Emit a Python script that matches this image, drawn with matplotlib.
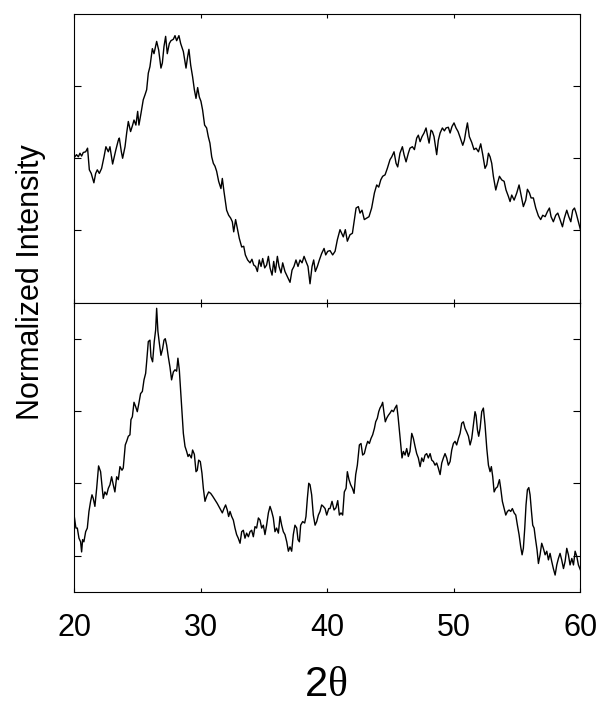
import numpy as np
from matplotlib import pyplot as plt

# top pattern: 2-theta (deg) and normalized intensity
top_theta = [
    20.00, 20.18, 20.32, 20.45, 20.58, 20.71, 20.90, 21.05, 21.19, 21.34,
    21.55, 21.69, 21.82, 21.98, 22.16, 22.35, 22.50, 22.69, 22.82, 23.03,
    23.16, 23.29, 23.48, 23.56, 23.72, 23.82, 24.01, 24.14, 24.27, 24.45,
    24.61, 24.72, 24.87, 25.01, 25.11, 25.27, 25.45, 25.59, 25.72, 25.85,
    25.98, 26.17, 26.30, 26.51, 26.67, 26.85, 26.96, 27.09, 27.22, 27.35,
    27.51, 27.64, 27.83, 27.96, 28.09, 28.27, 28.41, 28.62, 28.83, 28.96,
    29.06, 29.20, 29.35, 29.49, 29.62, 29.75, 29.88, 30.01, 30.14, 30.30,
    30.46, 30.59, 30.72, 30.86, 30.99, 31.12, 31.25, 31.41, 31.59, 31.70,
    31.83, 31.94, 32.04, 32.20, 32.36, 32.49, 32.60, 32.75, 32.91, 33.04,
    33.23, 33.39, 33.52, 33.70, 33.89, 34.04, 34.18, 34.33, 34.47, 34.62,
    34.76, 34.89, 35.05, 35.20, 35.34, 35.47, 35.63, 35.76, 35.89, 36.05,
    36.18, 36.34, 36.47, 36.65, 36.84, 37.05, 37.21, 37.36, 37.52, 37.68,
    37.84, 38.00, 38.16, 38.31, 38.47, 38.63, 38.79, 38.92, 39.05, 39.21,
    39.37, 39.55, 39.74, 39.87, 40.03, 40.21, 40.42, 40.61, 40.79, 41.00,
    41.13, 41.26, 41.42, 41.58, 41.79, 41.98, 42.11, 42.27, 42.45, 42.58,
    42.74, 42.92, 43.11, 43.29, 43.50, 43.72, 43.90, 44.06, 44.22, 44.37,
    44.56, 44.74, 44.95, 45.09, 45.27, 45.43, 45.56, 45.74, 45.93, 46.06,
    46.22, 46.40, 46.53, 46.72, 46.88, 47.06, 47.19, 47.33, 47.48, 47.64,
    47.80, 47.93, 48.04, 48.19, 48.30, 48.43, 48.64, 48.77, 48.91, 49.09,
    49.25, 49.38, 49.56, 49.70, 49.85, 50.01, 50.17, 50.33, 50.49, 50.70,
    50.83, 50.96, 51.07, 51.22, 51.41, 51.59, 51.75, 51.94, 52.12, 52.28,
    52.46, 52.60, 52.73, 52.86, 52.99, 53.12, 53.31, 53.44, 53.60, 53.78,
    53.97, 54.12, 54.31, 54.44, 54.57, 54.76, 54.97, 55.15, 55.31, 55.49,
    55.68, 55.81, 55.97, 56.10, 56.28, 56.47, 56.68, 56.86, 57.02, 57.21,
    57.39, 57.55, 57.68, 57.86, 58.05, 58.21, 58.39, 58.58, 58.73, 58.92,
    59.08, 59.24, 59.39, 59.53, 59.66, 59.79, 60.00,
]
top_int = [
    2.01, 2.05, 2.02, 2.07, 2.03, 2.08, 2.09, 2.14, 1.84, 1.79,
    1.66, 1.79, 1.84, 1.79, 1.86, 2.02, 2.16, 2.09, 2.16, 1.92,
    2.02, 2.12, 2.25, 2.28, 2.09, 2.00, 2.16, 2.35, 2.51, 2.37,
    2.46, 2.53, 2.46, 2.65, 2.46, 2.62, 2.81, 2.88, 2.95, 3.18,
    3.27, 3.52, 3.45, 3.62, 3.50, 3.25, 3.32, 3.55, 3.69, 3.45,
    3.59, 3.63, 3.65, 3.70, 3.63, 3.70, 3.59, 3.48, 3.25, 3.41,
    3.51, 3.29, 3.13, 2.95, 2.83, 2.98, 2.85, 2.79, 2.67, 2.46,
    2.42, 2.30, 2.21, 2.02, 1.93, 1.89, 1.82, 1.68, 1.58, 1.72,
    1.54, 1.40, 1.28, 1.21, 1.17, 1.12, 0.98, 1.15, 1.01, 0.89,
    0.77, 0.78, 0.66, 0.59, 0.55, 0.60, 0.52, 0.50, 0.43, 0.59,
    0.50, 0.61, 0.48, 0.52, 0.64, 0.48, 0.38, 0.57, 0.42, 0.64,
    0.50, 0.41, 0.55, 0.43, 0.36, 0.28, 0.45, 0.50, 0.59, 0.50,
    0.59, 0.55, 0.64, 0.57, 0.50, 0.26, 0.50, 0.59, 0.43, 0.50,
    0.59, 0.68, 0.75, 0.66, 0.71, 0.72, 0.66, 0.71, 0.87, 1.01,
    0.96, 0.91, 1.01, 0.85, 0.94, 0.96, 1.12, 1.31, 1.33, 1.24,
    1.28, 1.15, 1.17, 1.19, 1.31, 1.52, 1.63, 1.60, 1.70, 1.75,
    1.77, 1.86, 1.98, 2.02, 2.09, 1.93, 1.88, 2.07, 2.16, 2.05,
    1.95, 2.07, 2.14, 2.16, 2.12, 2.28, 2.32, 2.23, 2.30, 2.35,
    2.42, 2.30, 2.21, 2.39, 2.37, 2.30, 2.05, 2.25, 2.35, 2.42,
    2.38, 2.42, 2.43, 2.35, 2.44, 2.49, 2.42, 2.37, 2.29, 2.18,
    2.25, 2.39, 2.49, 2.30, 2.22, 2.12, 2.14, 2.09, 2.20, 2.05,
    1.86, 1.91, 2.07, 2.02, 1.93, 1.75, 1.56, 1.65, 1.75, 1.70,
    1.68, 1.56, 1.47, 1.40, 1.49, 1.42, 1.52, 1.63, 1.49, 1.33,
    1.42, 1.57, 1.52, 1.45, 1.45, 1.31, 1.20, 1.15, 1.21, 1.19,
    1.26, 1.31, 1.19, 1.12, 1.21, 1.24, 1.15, 1.05, 1.17, 1.28,
    1.19, 1.12, 1.28, 1.31, 1.24, 1.15, 1.01,
]

# bottom pattern
bot_theta = [
    20.00, 20.13, 20.24, 20.37, 20.50, 20.58, 20.66, 20.76, 20.90, 21.03,
    21.16, 21.29, 21.40, 21.50, 21.63, 21.77, 21.92, 22.08, 22.21, 22.29,
    22.42, 22.56, 22.69, 22.82, 22.95, 23.08, 23.21, 23.35, 23.48, 23.61,
    23.77, 23.87, 24.03, 24.14, 24.27, 24.40, 24.48, 24.59, 24.72, 24.85,
    24.98, 25.11, 25.24, 25.38, 25.51, 25.64, 25.72, 25.85, 25.98, 26.06,
    26.19, 26.32, 26.43, 26.51, 26.61, 26.72, 26.85, 26.98, 27.09, 27.19,
    27.30, 27.43, 27.56, 27.69, 27.83, 27.96, 28.09, 28.19, 28.30, 28.41,
    28.51, 28.62, 28.75, 28.88, 28.99, 29.09, 29.25, 29.35, 29.49, 29.62,
    29.72, 29.83, 29.96, 30.09, 30.20, 30.33, 30.46, 30.62, 30.78, 30.94,
    31.12, 31.30, 31.52, 31.70, 31.83, 31.96, 32.09, 32.20, 32.31, 32.44,
    32.57, 32.70, 32.83, 32.96, 33.10, 33.23, 33.36, 33.49, 33.62, 33.76,
    33.89, 34.02, 34.15, 34.28, 34.41, 34.55, 34.68, 34.81, 34.94, 35.07,
    35.20, 35.34, 35.47, 35.60, 35.73, 35.86, 35.99, 36.13, 36.26, 36.39,
    36.52, 36.65, 36.79, 36.92, 37.05, 37.18, 37.31, 37.44, 37.58, 37.68,
    37.79, 37.89, 38.05, 38.21, 38.31, 38.42, 38.53, 38.63, 38.76, 38.89,
    39.03, 39.16, 39.29, 39.42, 39.55, 39.68, 39.82, 39.95, 40.11, 40.21,
    40.37, 40.53, 40.68, 40.82, 40.95, 41.08, 41.21, 41.34, 41.48, 41.58,
    41.71, 41.84, 41.98, 42.11, 42.24, 42.37, 42.53, 42.66, 42.79, 42.92,
    43.06, 43.19, 43.32, 43.45, 43.58, 43.72, 43.82, 43.95, 44.06, 44.16,
    44.29, 44.37, 44.48, 44.58, 44.69, 44.82, 44.95, 45.09, 45.22, 45.35,
    45.48, 45.59, 45.69, 45.80, 45.90, 46.01, 46.14, 46.27, 46.40, 46.53,
    46.67, 46.80, 46.93, 47.06, 47.19, 47.33, 47.46, 47.59, 47.72, 47.85,
    47.98, 48.12, 48.25, 48.38, 48.51, 48.64, 48.77, 48.91, 49.04, 49.17,
    49.30, 49.43, 49.56, 49.70, 49.83, 49.96, 50.09, 50.22, 50.36, 50.49,
    50.62, 50.75, 50.88, 51.01, 51.15, 51.28, 51.41, 51.54, 51.67, 51.75,
    51.86, 51.96, 52.07, 52.20, 52.33, 52.46, 52.60, 52.73, 52.86, 52.96,
    53.07, 53.18, 53.31, 53.44, 53.60, 53.70, 53.83, 53.97, 54.10, 54.23,
    54.36, 54.49, 54.62, 54.76, 54.89, 55.02, 55.15, 55.28, 55.39, 55.49,
    55.60, 55.70, 55.81, 55.92, 56.02, 56.13, 56.23, 56.34, 56.44, 56.57,
    56.68, 56.81, 56.94, 57.07, 57.21, 57.34, 57.47, 57.60, 57.73, 57.86,
    58.00, 58.13, 58.26, 58.39, 58.52, 58.66, 58.79, 58.92, 59.05, 59.18,
    59.32, 59.45, 59.58, 59.71, 59.84, 60.00,
]
bot_int = [
    0.54, 0.38, 0.38, 0.24, 0.19, 0.05, 0.22, 0.19, 0.33, 0.38,
    0.61, 0.75, 0.84, 0.79, 0.68, 0.93, 1.24, 1.16, 0.93, 0.79,
    0.88, 0.84, 0.93, 0.98, 1.09, 0.98, 0.88, 1.09, 1.05, 1.23,
    1.18, 1.21, 1.53, 1.58, 1.65, 1.67, 1.88, 1.92, 2.12, 2.06,
    1.99, 2.11, 2.24, 2.27, 2.43, 2.52, 2.68, 2.96, 2.98, 2.75,
    2.68, 2.96, 3.12, 3.42, 3.10, 2.94, 2.77, 2.86, 2.98, 3.00,
    2.91, 2.75, 2.61, 2.43, 2.54, 2.57, 2.55, 2.73, 2.57, 2.27,
    1.99, 1.69, 1.51, 1.44, 1.37, 1.40, 1.35, 1.46, 1.40, 1.16,
    1.18, 1.32, 1.30, 1.14, 0.93, 0.75, 0.82, 0.88, 0.86, 0.82,
    0.77, 0.72, 0.65, 0.59, 0.65, 0.70, 0.63, 0.54, 0.61, 0.54,
    0.49, 0.38, 0.29, 0.24, 0.17, 0.33, 0.35, 0.24, 0.31, 0.26,
    0.33, 0.35, 0.26, 0.40, 0.38, 0.52, 0.49, 0.38, 0.42, 0.29,
    0.42, 0.59, 0.68, 0.61, 0.52, 0.33, 0.38, 0.31, 0.54, 0.42,
    0.33, 0.29, 0.19, 0.06, 0.12, 0.06, 0.29, 0.42, 0.38, 0.22,
    0.19, 0.42, 0.47, 0.45, 0.54, 0.79, 1.00, 0.98, 0.84, 0.56,
    0.42, 0.47, 0.56, 0.61, 0.70, 0.68, 0.65, 0.56, 0.65, 0.65,
    0.75, 0.63, 0.66, 0.76, 0.56, 0.59, 0.56, 0.88, 0.93, 1.16,
    1.05, 0.98, 0.93, 0.86, 1.12, 1.25, 1.53, 1.55, 1.39, 1.41,
    1.51, 1.58, 1.55, 1.62, 1.67, 1.76, 1.85, 1.90, 1.99, 2.04,
    2.08, 2.12, 1.97, 1.85, 1.90, 1.94, 1.97, 2.01, 1.99, 2.04,
    2.08, 1.92, 1.74, 1.55, 1.35, 1.44, 1.39, 1.48, 1.37, 1.44,
    1.69, 1.62, 1.51, 1.41, 1.35, 1.23, 1.35, 1.30, 1.39, 1.41,
    1.35, 1.41, 1.32, 1.30, 1.25, 1.28, 1.21, 1.12, 1.28, 1.35,
    1.41, 1.35, 1.25, 1.30, 1.46, 1.55, 1.58, 1.53, 1.62, 1.69,
    1.83, 1.85, 1.76, 1.71, 1.65, 1.53, 1.62, 1.81, 1.99, 1.94,
    1.74, 1.65, 1.76, 1.99, 2.04, 1.81, 1.48, 1.25, 1.16, 1.23,
    1.09, 0.88, 0.93, 0.95, 1.05, 0.93, 0.75, 0.65, 0.56, 0.61,
    0.63, 0.61, 0.65, 0.59, 0.56, 0.42, 0.29, 0.12, 0.01, 0.10,
    0.38, 0.70, 0.91, 0.94, 0.84, 0.61, 0.42, 0.38, 0.24, 0.08,
    -0.11, 0.01, 0.17, 0.10, 0.01, 0.06, -0.06, 0.03, -0.08, -0.18,
    -0.27, -0.13, -0.04, 0.03, -0.06, -0.18, -0.08, 0.10, 0.01, -0.13,
    -0.04, -0.13, 0.06, -0.01, -0.13, -0.20,
]

x_ticks = [20, 30, 40, 50, 60]


def style(ax, show_labels):
    ax.set_xlim(20, 60)
    ax.set_xticks(x_ticks)
    ax.tick_params(axis='x', direction='in', length=3, width=0.8,
                   top=True, bottom=True, labelbottom=show_labels,
                   labelsize=22, pad=15)
    ax.tick_params(axis='y', direction='in', length=5, width=0.8,
                   left=True, right=True, labelleft=False)
    for s in ax.spines.values():
        s.set_linewidth(0.8)


def main():
    plt.rcParams['font.family'] = ['Liberation Sans', 'DejaVu Sans']
    fig = plt.figure(figsize=(5.99, 7.07), dpi=100)

    ax1 = fig.add_axes([0.124, 0.5721, 0.845, 0.4081])
    ax1.plot(top_theta, top_int, color='black', lw=1.0)
    ax1.set_ylim(0, 4)
    ax1.set_yticks([1, 2, 3])
    style(ax1, False)

    ax2 = fig.add_axes([0.124, 0.1631, 0.845, 0.4090])
    ax2.plot(bot_theta, bot_int, color='black', lw=1.0)
    ax2.set_ylim(-0.5, 3.5)
    ax2.set_yticks([0, 1, 2, 3])
    style(ax2, True)

    fig.text(0.052, 0.601, 'Normalized Intensity', rotation=90,
             ha='center', va='center', fontsize=22)
    # axis title built from two pieces: sans "2" and serif theta
    xc = 327.8 / 599
    fig.text(xc, 0.003, '2', ha='right', va='bottom', fontsize=30)
    fig.text(xc, 0.003, 'θ', ha='left', va='bottom', fontsize=30,
             family='Liberation Serif')

    fig.savefig('out.png', dpi=100)


if __name__ == '__main__':
    main()
